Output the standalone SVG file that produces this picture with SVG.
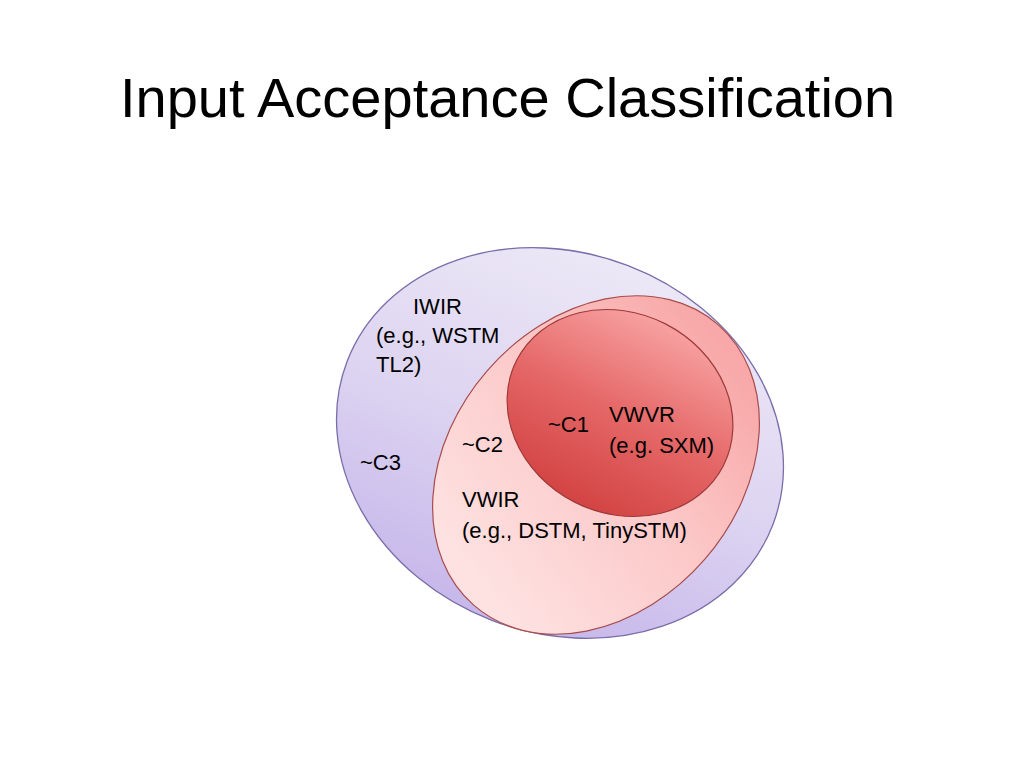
<svg xmlns="http://www.w3.org/2000/svg" width="1024" height="768" viewBox="0 0 1024 768">
  <style>
    .title { font-family: "Liberation Sans", Arial, sans-serif; font-size: 56px; fill: #000; }
    .lbl { font-family: "Liberation Sans", Arial, sans-serif; font-size: 22px; fill: #000; }
  </style>
  <defs>
    <linearGradient id="gOuter" gradientUnits="userSpaceOnUse" x1="0" y1="250" x2="0" y2="640">
      <stop offset="0" stop-color="#ece8f6"/>
      <stop offset="0.5" stop-color="#ddd4f1"/>
      <stop offset="1" stop-color="#c6b6ea"/>
    </linearGradient>
    <linearGradient id="gMid" gradientUnits="userSpaceOnUse" x1="430" y1="420" x2="770" y2="480">
      <stop offset="0" stop-color="#fee2e2"/>
      <stop offset="0.55" stop-color="#fcc8c8"/>
      <stop offset="1" stop-color="#f8a8a8"/>
    </linearGradient>
    <linearGradient id="gIn" gradientUnits="userSpaceOnUse" x1="0" y1="310" x2="0" y2="518">
      <stop offset="0" stop-color="#f8a2a2"/>
      <stop offset="0.5" stop-color="#e56767"/>
      <stop offset="1" stop-color="#d24242"/>
    </linearGradient>
  </defs>
  <rect width="1024" height="768" fill="#ffffff"/>
  <text class="title" x="120" y="117">Input Acceptance Classification</text>
  <g id="c3">
    <ellipse cx="560" cy="443" rx="228" ry="190" transform="rotate(21 560 443)" fill="url(#gOuter)" stroke="#7a6eaa" stroke-width="1.3"/>
  </g>
  <g id="c2">
    <ellipse cx="596" cy="465" rx="186" ry="144" transform="rotate(-49 596 465)" fill="url(#gMid)" stroke="#a84c4c" stroke-width="1.2"/>
  </g>
  <g id="c1">
    <ellipse cx="620" cy="413" rx="116" ry="100" transform="rotate(27 620 413)" fill="url(#gIn)" stroke="#9e3a3a" stroke-width="1.2"/>
  </g>
  <g id="labels">
    <text class="lbl" x="413" y="314">IWIR</text>
    <text class="lbl" x="376" y="343">(e.g., WSTM</text>
    <text class="lbl" x="376" y="372">TL2)</text>
    <text class="lbl" x="360" y="470">~C3</text>
    <text class="lbl" x="462" y="452">~C2</text>
    <text class="lbl" x="548" y="432">~C1</text>
    <text class="lbl" x="609" y="422">VWVR</text>
    <text class="lbl" x="609" y="453">(e.g. SXM)</text>
    <text class="lbl" x="462" y="507">VWIR</text>
    <text class="lbl" x="462" y="538">(e.g., DSTM, TinySTM)</text>
  </g>
</svg>
